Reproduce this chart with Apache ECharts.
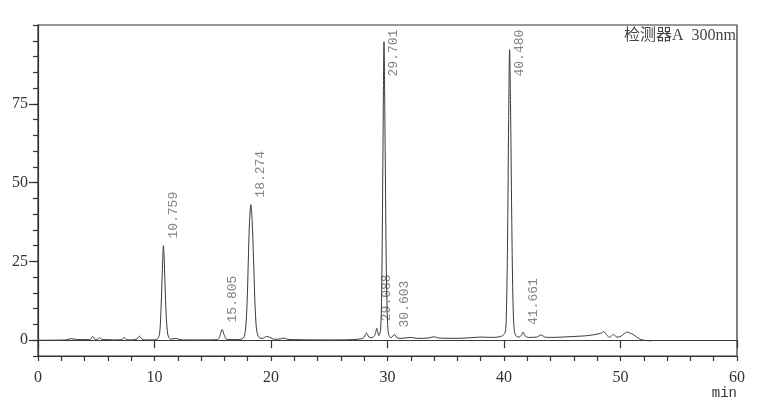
<!DOCTYPE html>
<html><head><meta charset="utf-8">
<script src="https://cdn.jsdelivr.net/npm/echarts@6/dist/echarts.min.js"></script>
<style>html,body{margin:0;padding:0;background:#fff}#c{width:758px;height:407px}</style>
</head><body><div id="c"></div>
<script>
// chromatogram trace: retention time (min) and signal (mAU)
const traceTime = [0,2.4,2.8,3.2,3.6,4.4,4.5,4.7,4.9,5.1,5.3,5.5,6.0,6.5,7.2,7.4,7.6,8.0,8.5,8.7,8.9,9.2,9.8,10.2,10.4,10.5,10.6,10.7,10.76,10.82,10.9,11.0,11.1,11.2,11.4,11.8,12.1,12.5,14.0,15.4,15.6,15.8,16.0,16.2,17.0,17.6,17.8,17.95,18.05,18.15,18.27,18.38,18.5,18.6,18.7,18.8,19.0,19.3,19.6,19.9,20.3,20.8,21.1,21.4,22.0,24.0,26.0,27.0,27.8,28.0,28.2,28.4,28.6,28.9,29.09,29.25,29.4,29.5,29.6,29.7,29.8,29.9,30.0,30.1,30.3,30.6,30.8,31.2,32.0,32.5,33.5,34.0,34.4,36.0,37.5,38.0,39.0,39.8,40.1,40.2,40.3,40.4,40.48,40.56,40.66,40.76,40.86,41.0,41.3,41.5,41.65,41.8,42.1,42.8,43.2,43.5,44.0,45.0,46.0,47.0,47.8,48.3,48.55,48.8,49.05,49.4,49.7,50.0,50.3,50.55,50.8,51.1,51.4,51.7,52.0,52.7];
const traceSignal = [0,0.1,0.5,0.3,0.2,0.2,0.3,1.2,0.3,0.3,0.8,0.2,0.2,0.1,0.2,0.9,0.2,0.1,0.4,1.3,0.4,0.1,0.1,0.3,1.5,5,14,25,30,27,18,8,3,1,0.3,0.6,0.3,0.1,0.1,0.2,1.2,3.4,1.5,0.3,0.2,0.6,3,12,25,37,43,38,26,14,6,2.5,0.8,0.6,1.2,0.9,0.3,0.4,0.7,0.3,0.2,0.1,0.1,0.2,0.5,1.0,2.3,1.0,0.8,1.5,3.8,1.5,3,15,55,94.7,60,22,6,1.8,0.8,1.8,0.8,0.6,0.9,0.6,0.7,1.1,0.7,0.6,0.9,1.0,0.9,1.3,2.5,8,30,70,92.2,75,40,14,4,1.5,1.0,1.6,2.6,1.4,0.9,1.0,1.7,1.0,0.9,1.0,1.2,1.4,1.8,2.2,2.7,1.8,0.9,1.8,1.0,1.2,2.0,2.6,2.3,1.8,1.0,0.3,0.0,-0.2];
// labelled peaks
const peakTimes = [10.759,15.805,18.274,29.088,29.701,30.603,40.480,41.661];
const peakHeights = [30,3.4,43,3.8,94.7,1.8,92.2,2.6];
const yLabelValues = [0,25,50,75];
const xLabelValues = [0,10,20,30,40,50,60];

const serif = '"Liberation Serif","DejaVu Serif",serif';
const mono = '"Liberation Mono","DejaVu Sans Mono",monospace';
const axisColor = '#333';

const trace = traceTime.map((t,i)=>[t,traceSignal[i]]);
const YMAX = 100;
const peakData = peakTimes.map((t,i)=>{
  const h = peakHeights[i];
  const tall = h > 80;
  return {
    value: tall ? [t, 98.5] : [t, h],
    label: {
      show: true,
      formatter: t.toFixed(3),
      rotate: 90,
      position: tall ? [10, 0] : [10, -7],
      align: tall ? 'right' : 'left',
      verticalAlign: 'middle'
    }
  };
});

const chart = echarts.init(document.getElementById('c'), null, {renderer:'canvas'});
chart.setOption({
  animation: false,
  backgroundColor: '#fff',
  grid: {left: 38, right: 21, top: 25, bottom: 51, show: true, borderColor: axisColor, borderWidth: 1.2},
  xAxis: [{
    type: 'value', min: 0, max: 60, interval: 2,
    axisLine: {show: true, onZero: false, lineStyle: {color: axisColor, width: 1.2}},
    axisTick: {show: true, length: 5, lineStyle: {color: axisColor, width: 1.2}},
    axisLabel: {customValues: xLabelValues, color: '#333', fontFamily: serif, fontSize: 16, margin: 14},
    splitLine: {show: false},
    name: 'min', nameLocation: 'end', nameGap: 0,
    nameTextStyle: {fontFamily: mono, fontSize: 14, color: '#333', align: 'right', verticalAlign: 'top', padding: [30, 0, 0, 0]}
  },{
    type: 'value', min: 0, max: 60, interval: 2, position: 'bottom',
    axisLine: {show: false},
    axisTick: {show: true, length: 8, customValues: xLabelValues, lineStyle: {color: axisColor, width: 1.2}},
    axisLabel: {show: false}, splitLine: {show: false}
  }],
  yAxis: [{
    type: 'value', min: -5, max: YMAX, interval: 5,
    axisLine: {show: true, onZero: false, lineStyle: {color: axisColor, width: 1.2}},
    axisTick: {show: true, length: 5, lineStyle: {color: axisColor, width: 1.2}},
    axisLabel: {customValues: yLabelValues, color: '#333', fontFamily: serif, fontSize: 16, margin: 10},
    splitLine: {show: false}
  },{
    type: 'value', min: -5, max: YMAX, interval: 5, position: 'left',
    axisLine: {show: false},
    axisTick: {show: true, length: 9, customValues: yLabelValues, lineStyle: {color: axisColor, width: 1.2}},
    axisLabel: {show: false}, splitLine: {show: false}
  }],
  graphic: [{
    type: 'text', right: 22, top: 28,
    style: {text: '检测器A  300nm', font: '16px "Liberation Serif", "Noto Sans CJK SC", serif', fill: '#444'}
  }],
  series: [{
    type: 'line', data: trace, showSymbol: false, smooth: 0.3,
    lineStyle: {color: '#3a3a3a', width: 1},
    markLine: {silent: true, symbol: 'none', label: {show: false},
      lineStyle: {color: '#3a3a3a', width: 1, type: 'solid'}, data: [{yAxis: 0}]}
  },{
    type: 'scatter', data: peakData, symbolSize: 0.1, silent: true,
    itemStyle: {color: 'transparent'},
    label: {fontFamily: mono, fontSize: 13, color: '#666'}
  }]
});
</script></body></html>
